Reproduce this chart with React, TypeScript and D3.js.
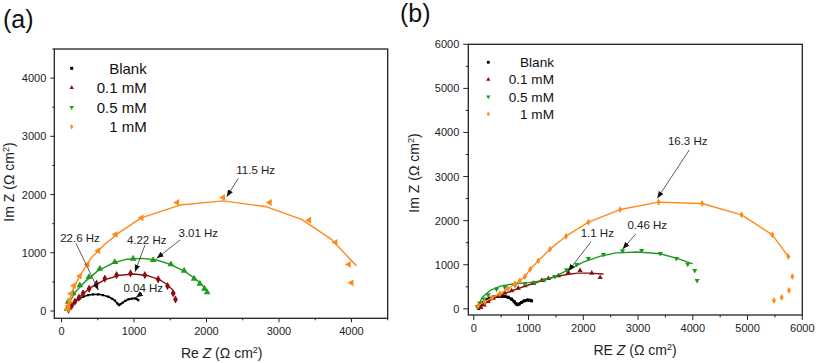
import React from "react";
import * as d3 from "d3";

// ---------- Panel (a) data ----------
const aBlankX = [90, 110, 130, 150, 175, 200, 230, 254, 300, 369, 430, 507, 570, 645, 700, 737, 770, 792, 815, 843, 880, 921, 970, 1013, 1040, 1059];
const aBlankY = [10, 50, 90, 120, 155, 180, 205, 218, 245, 275, 284, 287, 275, 246, 210, 177, 130, 103, 120, 143, 175, 200, 212, 218, 205, 189];
const aLowX = [95, 140, 185, 240, 298, 381, 483, 597, 759, 952, 1149, 1333, 1462, 1540, 1572];
const aLowY = [25, 90, 160, 230, 304, 383, 469, 555, 617, 646, 617, 544, 429, 304, 200];
const aLowFitX = [80, 150, 250, 400, 600, 800, 1000, 1200, 1350, 1450, 1520, 1565];
const aLowFitY = [0, 120, 250, 400, 540, 615, 635, 605, 540, 460, 380, 300];
const aMidX = [75, 91, 160, 252, 377, 528, 735, 988, 1264, 1508, 1691, 1829, 1908, 1972, 2009];
const aMidY = [40, 160, 304, 441, 583, 726, 840, 898, 875, 801, 692, 555, 469, 383, 321];
const aMidFitX = [70, 120, 200, 320, 500, 700, 900, 1100, 1300, 1500, 1700, 1850, 1950, 2020];
const aMidFitY = [0, 180, 340, 500, 690, 820, 890, 905, 880, 800, 680, 550, 430, 310];
const aHighX = [85, 95, 110, 130, 170, 252, 358, 505, 745, 1103, 1595, 2229, 2873, 3416, 3779, 3963, 4000];
const aHighY = [30, 90, 180, 300, 434, 600, 801, 1035, 1315, 1601, 1864, 1950, 1864, 1561, 1178, 801, 485];
const aHighFitX = [70, 150, 250, 400, 600, 800, 1100, 1633, 2230, 2830, 3311, 3725, 4070];
const aHighFitY = [0, 350, 600, 900, 1150, 1350, 1600, 1820, 1892, 1790, 1573, 1230, 772];
const aTicks = [0, 1000, 2000, 3000, 4000];
const aYTicks = [0, 1000, 2000, 3000, 4000];
// annotations: text x,y, arrow from x,y to x,y (data units)
const aNotes = [
  { t: "22.6 Hz", tx: 255, ty: 1259, x1: 199, y1: 1163, x2: 507, y2: 361 },
  { t: "4.22 Hz", tx: 1175, ty: 1219, x1: 1151, y1: 1133, x2: 1013, y2: 675 },
  { t: "3.01 Hz", tx: 1887, ty: 1334, x1: 1635, y1: 1219, x2: 1313, y2: 905 },
  { t: "0.04 Hz", tx: 1128, ty: 390, x1: 1110, y1: 309, x2: 1027, y2: 232 },
  { t: "11.5 Hz", tx: 2679, ty: 2421, x1: 2439, y1: 2279, x2: 2279, y2: 1963 },
];

// ---------- Panel (b) data ----------
const bBlankX = [90, 110, 140, 180, 230, 290, 360, 430, 500, 570, 630, 690, 740, 775, 800, 830, 870, 920, 980, 1030, 1056];
const bBlankY = [10, 50, 100, 150, 200, 240, 265, 280, 285, 280, 260, 220, 160, 110, 95, 110, 145, 180, 200, 195, 180];
const bLowX = [128, 189, 262, 354, 446, 568, 690, 812, 934, 1087, 1239, 1361, 1545, 1727, 1941, 2155, 2308];
const bLowY = [30, 90, 166, 240, 295, 360, 410, 469, 522, 582, 642, 688, 748, 824, 869, 809, 710];
const bLowFitX = [80, 200, 350, 500, 700, 900, 1100, 1300, 1500, 1700, 1900, 2100, 2370];
const bLowFitY = [0, 120, 230, 310, 410, 500, 580, 660, 730, 780, 810, 810, 790];
const bMidX = [65, 110, 189, 262, 415, 568, 751, 934, 1117, 1300, 1483, 1697, 1880, 2094, 2369, 2717, 3065, 3407, 3700, 3907, 4035, 4078];
const bMidY = [50, 130, 220, 317, 447, 492, 537, 567, 590, 658, 733, 884, 1005, 1141, 1232, 1315, 1322, 1254, 1141, 1013, 869, 642];
const bMidFitX = [60, 150, 300, 500, 750, 1000, 1250, 1500, 1750, 2000, 2300, 2600, 3000, 3400, 3700, 4000];
const bMidFitY = [0, 250, 420, 520, 570, 595, 640, 740, 900, 1060, 1190, 1270, 1290, 1250, 1150, 1020];
const bHighX = [80, 200, 330, 476, 620, 751, 842, 934, 1031, 1178, 1392, 1685, 2094, 2674, 3376, 4170, 4890, 5452, 5745, 5818, 5757, 5623, 5482];
const bHighY = [70, 160, 250, 340, 450, 567, 635, 732, 900, 1088, 1354, 1648, 1966, 2252, 2419, 2388, 2132, 1678, 1186, 732, 415, 256, 188];
const bHighFitX = [80, 200, 330, 476, 620, 751, 842, 934, 1031, 1178, 1392, 1685, 2094, 2674, 3376, 4170, 4890, 5452, 5745];
const bHighFitY = [70, 160, 250, 340, 450, 567, 635, 732, 900, 1088, 1354, 1648, 1966, 2252, 2419, 2388, 2132, 1678, 1186];
const bTicks = [0, 1000, 2000, 3000, 4000, 5000, 6000];
const bYTicks = [0, 1000, 2000, 3000, 4000, 5000, 6000];
const bNotes = [
  { t: "16.3 Hz", tx: 3907, ty: 3813, x1: 3936, y1: 3602, x2: 3352, y2: 2506 },
  { t: "1.1 Hz", tx: 2256, ty: 1712, x1: 2141, y1: 1522, x2: 1726, y2: 857 },
  { t: "0.46 Hz", tx: 3169, ty: 1901, x1: 2957, y1: 1697, x2: 2720, y2: 1356 },
];

const legendLabels = ["Blank", "0.1 mM", "0.5 mM", "1 mM"];
const colors = ["#000000", "#8b0f0f", "#1f9a1f", "#ff8a1c"];
const FONT = "'Liberation Sans', Arial, sans-serif";

type Series = { x: number[]; y: number[]; fx?: number[]; fy?: number[]; color: string; shape: string; size: number; lw: number };

function symPath(shape: string, size: number) {
  const t =
    shape === "square" ? d3.symbolSquare :
    shape === "diamond" ? d3.symbolDiamond :
    d3.symbolTriangle;
  return d3.symbol().type(t).size(size)() as string;
}
function rot(shape: string) {
  if (shape === "tri-down") return 180;
  if (shape === "tri-left") return -90;
  return 0;
}

type PanelProps = {
  id: string;
  left: number; top: number; right: number; bottom: number;
  xDom: [number, number]; yDom: [number, number];
  xTicks: number[]; yTicks: number[];
  series: Series[];
  notes: { t: string; tx: number; ty: number; x1: number; y1: number; x2: number; y2: number }[];
  legend: { x: number; y0: number; dy: number; textRight: number; fs: number; msize: number };
  xTitle: React.ReactNode; yTitle: React.ReactNode;
  xTitlePos: [number, number]; yTitlePos: [number, number];
  label: string; labelPos: [number, number];
  tickLen: number;
};

function Panel(p: PanelProps) {
  const x = d3.scaleLinear().domain(p.xDom).range([p.left, p.right]);
  const y = d3.scaleLinear().domain(p.yDom).range([p.bottom, p.top]);
  const line = (xs: number[], ys: number[]) =>
    d3.line<number>().x((_, i) => x(xs[i])).y((_, i) => y(ys[i])).curve(d3.curveLinear)(xs) as string;
  const minorX = d3.range(0, p.xDom[1] + 1, 500).filter((v) => !p.xTicks.includes(v) && v <= p.xDom[1]);
  const minorY = d3.range(0, p.yDom[1] + 1, 500).filter((v) => !p.yTicks.includes(v) && v <= p.yDom[1]);
  const legShapes = ["square", "tri-up", "tri-down", "diamond"];
  return (
    <g>
      <text x={p.labelPos[0]} y={p.labelPos[1]} fontSize={25} fontFamily={FONT} fill="#111">{p.label}</text>
      <rect x={p.left} y={p.top} width={p.right - p.left} height={p.bottom - p.top} fill="none" stroke="#222" strokeWidth={1.3} />
      {p.xTicks.map((v) => (
        <g key={"xt" + v}>
          <line x1={x(v)} x2={x(v)} y1={p.bottom} y2={p.bottom + p.tickLen} stroke="#222" strokeWidth={1} />
          <text x={x(v)} y={p.bottom + 17} textAnchor="middle" fontSize={11} fontFamily={FONT} fill="#222">{v}</text>
        </g>
      ))}
      {minorX.map((v) => (
        <line key={"xm" + v} x1={x(v)} x2={x(v)} y1={p.bottom} y2={p.bottom + p.tickLen / 2} stroke="#222" strokeWidth={1} />
      ))}
      {p.yTicks.map((v) => (
        <g key={"yt" + v}>
          <line x1={p.left - p.tickLen} x2={p.left} y1={y(v)} y2={y(v)} stroke="#222" strokeWidth={1} />
          <text x={p.left - p.tickLen - 4} y={y(v) + 4} textAnchor="end" fontSize={11} fontFamily={FONT} fill="#222">{v}</text>
        </g>
      ))}
      {minorY.map((v) => (
        <line key={"ym" + v} x1={p.left - p.tickLen / 2} x2={p.left} y1={y(v)} y2={y(v)} stroke="#222" strokeWidth={1} />
      ))}
      <text x={p.xTitlePos[0]} y={p.xTitlePos[1]} textAnchor="middle" fontSize={14} fontFamily={FONT} fill="#222">{p.xTitle}</text>
      <text transform={`translate(${p.yTitlePos[0]},${p.yTitlePos[1]}) rotate(-90)`} textAnchor="middle" fontSize={14} fontFamily={FONT} fill="#222">{p.yTitle}</text>
      <defs>
        <clipPath id={"clip" + p.id}>
          <rect x={p.left} y={p.top} width={p.right - p.left} height={p.bottom - p.top} />
        </clipPath>
        <marker id={"arr" + p.id} viewBox="0 0 10 10" refX={10} refY={5} markerWidth={7} markerHeight={7} orient="auto" markerUnits="userSpaceOnUse">
          <path d="M0,1 L10,5 L0,9 z" fill="#111" />
        </marker>
      </defs>
      <g clipPath={`url(#clip${p.id})`}>
        {p.series.map((s, si) => (
          <g key={"s" + si}>
            <path d={line(s.fx ?? s.x, s.fy ?? s.y)} fill="none" stroke={s.color} strokeWidth={s.lw} strokeLinejoin="round" />
            {s.x.map((xv, i) => (
              <path key={i} d={symPath(s.shape, s.size)} transform={`translate(${x(xv)},${y(s.y[i])}) rotate(${rot(s.shape)})`} fill={s.color} />
            ))}
          </g>
        ))}
      </g>
      {p.notes.map((n, i) => (
        <g key={"n" + i}>
          <line x1={x(n.x1)} y1={y(n.y1)} x2={x(n.x2)} y2={y(n.y2)} stroke="#333" strokeWidth={0.8} markerEnd={`url(#arr${p.id})`} />
          <text x={x(n.tx)} y={y(n.ty) + 4} textAnchor="middle" fontSize={11.5} fontFamily={FONT} fill="#222">{n.t}</text>
        </g>
      ))}
      {legendLabels.map((lab, i) => (
        <g key={"l" + i}>
          <path d={symPath(legShapes[i], p.legend.msize)} transform={`translate(${p.legend.x},${p.legend.y0 + i * p.legend.dy}) rotate(${rot(legShapes[i])})`} fill={colors[i]} />
          <text x={p.legend.textRight} y={p.legend.y0 + i * p.legend.dy + p.legend.fs * 0.36} textAnchor="end" fontSize={p.legend.fs} fontFamily={FONT} fill="#111">{lab}</text>
        </g>
      ))}
    </g>
  );
}

const unit = (
  <>
    {" ("}Ω cm<tspan dy={-5} fontSize={9}>2</tspan><tspan dy={5}>)</tspan>
  </>
);

export default function App() {
  const seriesA: Series[] = [
    { x: aBlankX, y: aBlankY, color: colors[0], shape: "square", size: 5, lw: 1.6 },
    { x: aLowX, y: aLowY, fx: aLowFitX, fy: aLowFitY, color: colors[1], shape: "diamond", size: 20, lw: 1.4 },
    { x: aMidX, y: aMidY, fx: aMidFitX, fy: aMidFitY, color: colors[2], shape: "tri-up", size: 20, lw: 1.4 },
    { x: aHighX, y: aHighY, fx: aHighFitX, fy: aHighFitY, color: colors[3], shape: "tri-left", size: 20, lw: 1.4 },
  ];
  const seriesB: Series[] = [
    { x: bBlankX, y: bBlankY, color: colors[0], shape: "square", size: 9, lw: 2.6 },
    { x: bLowX, y: bLowY, fx: bLowFitX, fy: bLowFitY, color: colors[1], shape: "tri-up", size: 12, lw: 1.4 },
    { x: bMidX, y: bMidY, fx: bMidFitX, fy: bMidFitY, color: colors[2], shape: "tri-down", size: 12, lw: 1.4 },
    { x: bHighX, y: bHighY, fx: bHighFitX, fy: bHighFitY, color: colors[3], shape: "diamond", size: 14, lw: 1.4 },
  ];
  return (
    <svg width={817} height={363} style={{ position: "absolute", left: 0, top: 0, background: "#fff" }}>
      <rect width={817} height={363} fill="#fff" />
      <Panel
        id="a" left={54.3} top={49} right={387.7} bottom={318.3}
        xDom={[-100, 4500]} yDom={[-125, 4500]}
        xTicks={aTicks} yTicks={aYTicks}
        series={seriesA} notes={aNotes}
        legend={{ x: 71.7, y0: 68.3, dy: 19.5, textRight: 146.7, fs: 15, msize: 9 }}
        xTitle={<>Re <tspan fontStyle="italic">Z</tspan>{unit}</>}
        yTitle={<>Im Z{unit}</>}
        xTitlePos={[221.7, 358]} yTitlePos={[14, 182]}
        label="(a)" labelPos={[3, 28]} tickLen={4}
      />
      <Panel
        id="b" left={468.3} top={44.3} right={802.3} bottom={315}
        xDom={[-100, 6000]} yDom={[-140, 6000]}
        xTicks={bTicks} yTicks={bYTicks}
        series={seriesB} notes={bNotes}
        legend={{ x: 488.3, y0: 62.3, dy: 17.2, textRight: 554, fs: 13.6, msize: 8 }}
        xTitle={<>RE <tspan fontStyle="italic">Z</tspan>{unit}</>}
        yTitle={<>Im Z{unit}</>}
        xTitlePos={[635, 355]} yTitlePos={[419, 173]}
        label="(b)" labelPos={[400, 22]} tickLen={5}
      />
    </svg>
  );
}
